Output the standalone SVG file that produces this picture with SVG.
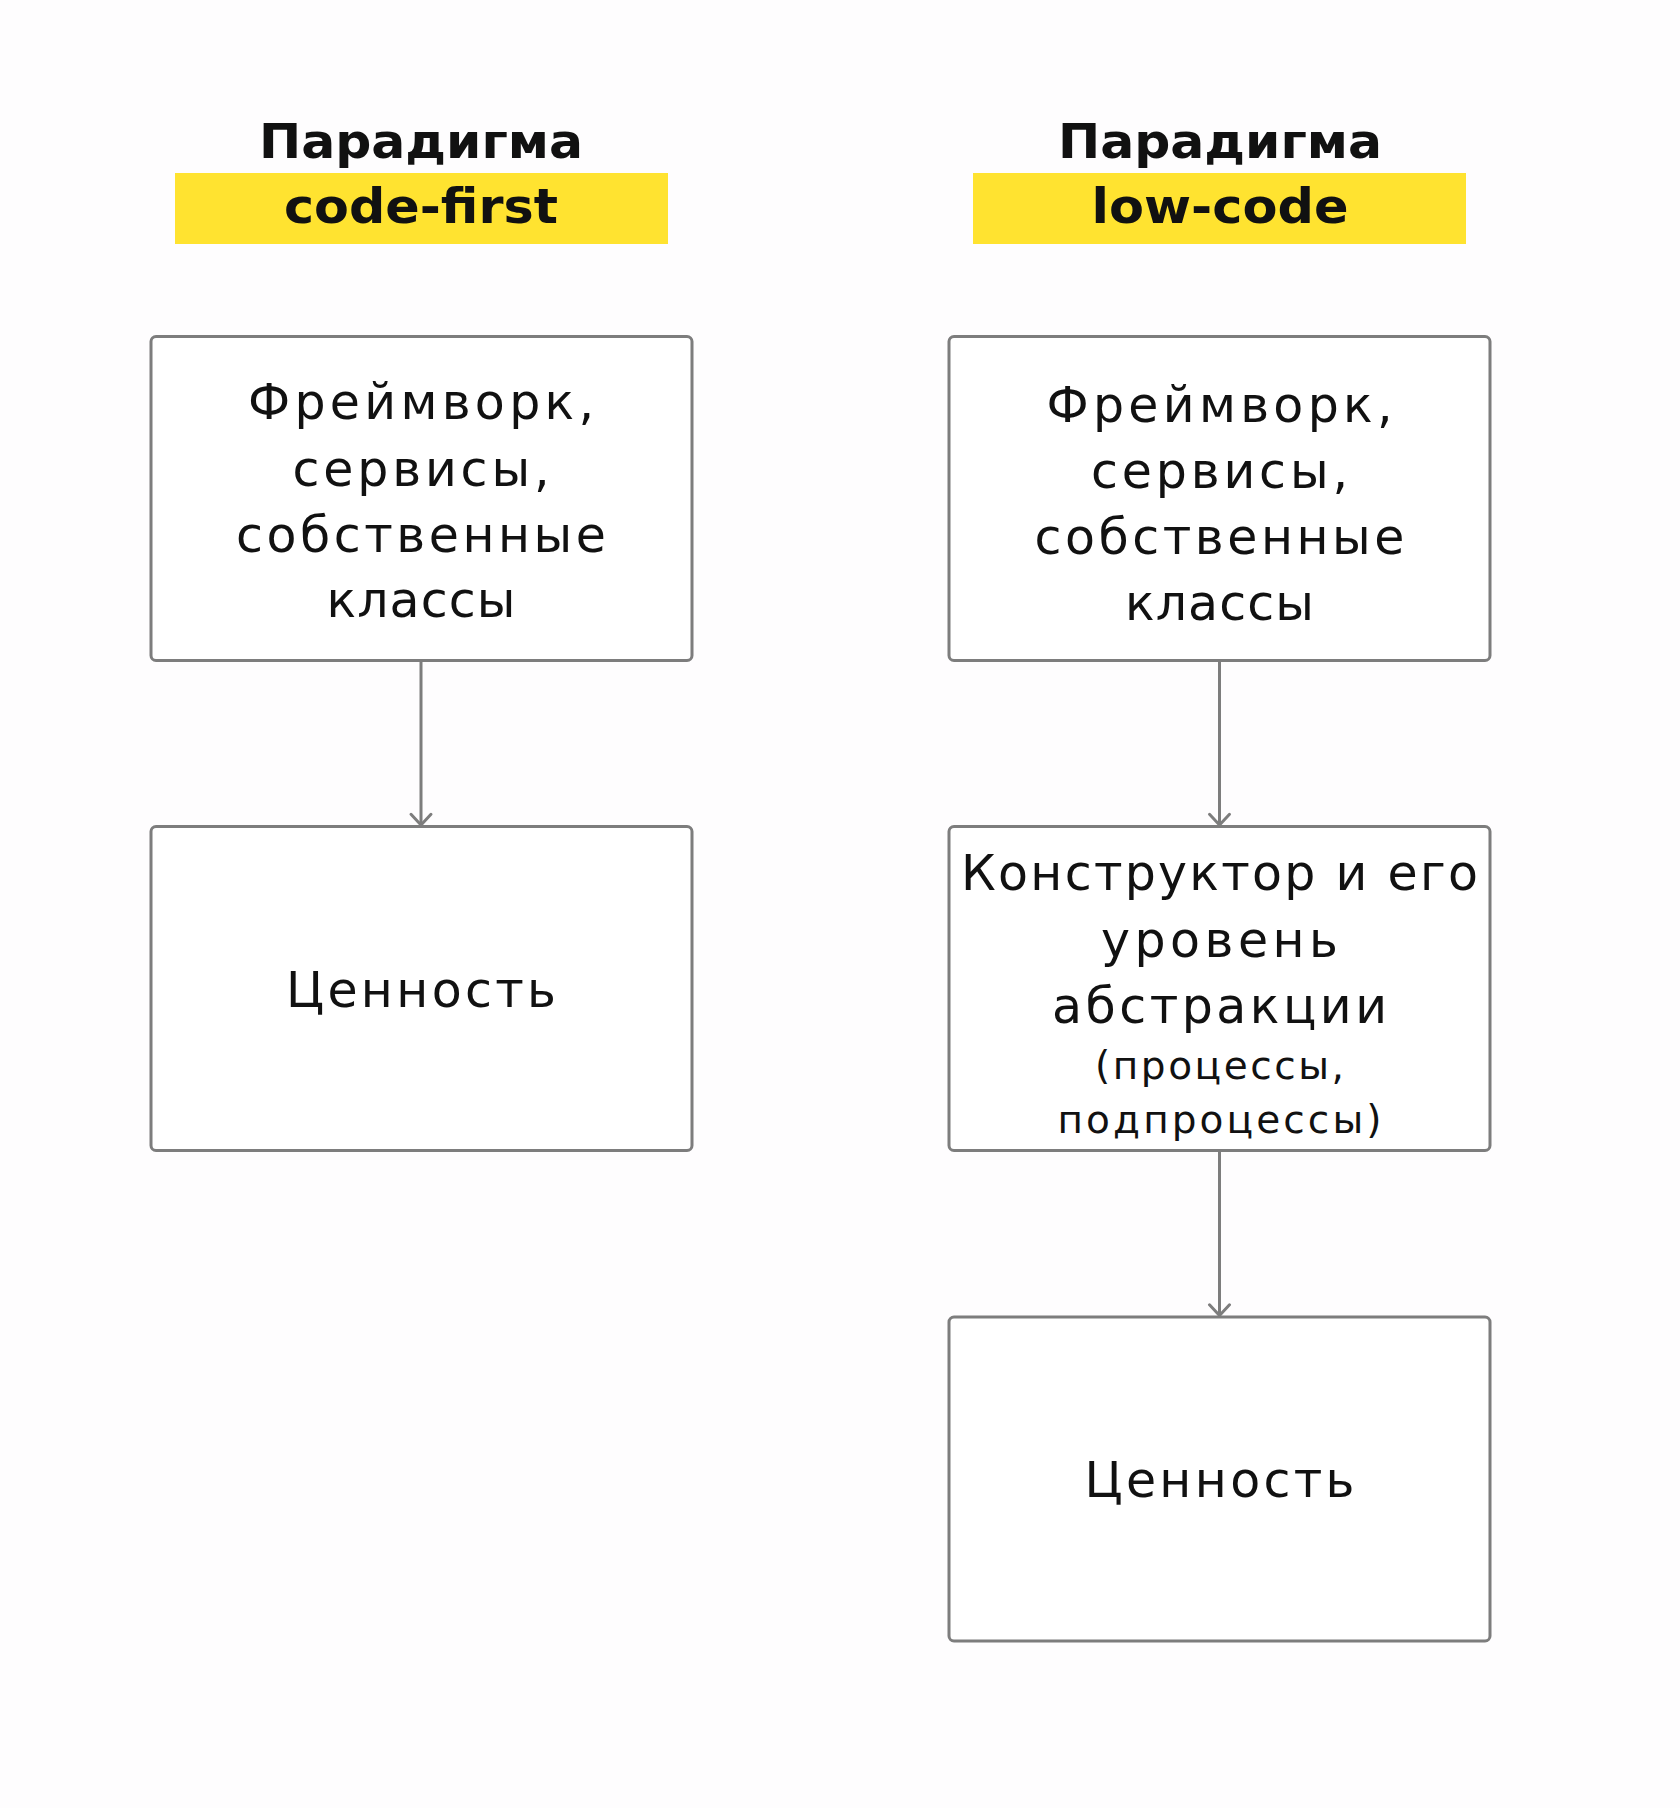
<svg xmlns="http://www.w3.org/2000/svg" width="1680" height="1808" viewBox="0 0 1680 1808">
  <defs>
    <style>
      .bg { fill: #fefdfe; }
      .hl { fill: #ffe330; }
      .box { fill: #ffffff; stroke: #7d7d7d; stroke-width: 3; }
      .conn { stroke: #7d7d7d; stroke-width: 3; fill: none; }
      .title { font-family: "DejaVu Sans", "Liberation Sans", sans-serif; font-weight: bold; font-size: 48px; fill: #111111; text-anchor: middle; }
      .big { font-family: "DejaVu Sans", "Liberation Sans", sans-serif; font-size: 49px; fill: #111111; text-anchor: middle; }
      .small { font-family: "DejaVu Sans", "Liberation Sans", sans-serif; font-size: 39px; fill: #111111; text-anchor: middle; }
    </style>
    <marker id="arrow" viewBox="-13 -13 16 26" refX="0" refY="0" markerWidth="16" markerHeight="26" markerUnits="userSpaceOnUse" orient="auto">
      <path d="M-10.7,-10 L0,0 L-10.7,10" fill="none" stroke="#7d7d7d" stroke-width="3" stroke-linecap="round" stroke-linejoin="round"/>
    </marker>
  </defs>

  <rect class="bg" x="0" y="0" width="1680" height="1808"/>

  <g id="header-code-first">
    <text class="title" x="421" y="158" textLength="324" lengthAdjust="spacingAndGlyphs">Парадигма</text>
    <rect class="hl" x="175" y="173" width="493" height="71"/>
    <text class="title" x="421" y="223" textLength="274" lengthAdjust="spacingAndGlyphs">code-first</text>
  </g>

  <g id="header-low-code">
    <text class="title" x="1220" y="158" textLength="324" lengthAdjust="spacingAndGlyphs">Парадигма</text>
    <rect class="hl" x="973" y="173" width="493" height="71"/>
    <text class="title" x="1220" y="223" textLength="257" lengthAdjust="spacingAndGlyphs">low-code</text>
  </g>

  <g id="connectors">
    <line class="conn" x1="421" y1="660" x2="421" y2="825" marker-end="url(#arrow)"/>
    <line class="conn" x1="1219.5" y1="660" x2="1219.5" y2="825" marker-end="url(#arrow)"/>
    <line class="conn" x1="1219.5" y1="1151" x2="1219.5" y2="1315.5" marker-end="url(#arrow)"/>
  </g>

  <g id="left-framework">
    <rect class="box" x="151" y="336.5" width="541" height="324" rx="5"/>
    <text class="big" x="421" y="419" textLength="346">Фреймворк,</text>
    <text class="big" x="421" y="486" textLength="257">сервисы,</text>
    <text class="big" x="421" y="552" textLength="370">собственные</text>
    <text class="big" x="421" y="617" textLength="189">классы</text>
  </g>

  <g id="left-value">
    <rect class="box" x="151" y="826.5" width="541" height="324" rx="5"/>
    <text class="big" x="421" y="1007" textLength="270">Ценность</text>
  </g>

  <g id="right-framework">
    <rect class="box" x="949" y="336.5" width="541" height="324" rx="5"/>
    <text class="big" x="1219.5" y="421.5" textLength="346">Фреймворк,</text>
    <text class="big" x="1219.5" y="488" textLength="257">сервисы,</text>
    <text class="big" x="1219.5" y="554" textLength="370">собственные</text>
    <text class="big" x="1219.5" y="620" textLength="189">классы</text>
  </g>

  <g id="right-constructor">
    <rect class="box" x="949" y="826.5" width="541" height="324" rx="5"/>
    <text class="big" x="1219.5" y="890" textLength="517">Конструктор и его</text>
    <text class="big" x="1219.5" y="957" textLength="237">уровень</text>
    <text class="big" x="1219.5" y="1023" textLength="335">абстракции</text>
    <text class="small" x="1219.5" y="1079" textLength="249">(процессы,</text>
    <text class="small" x="1219.5" y="1133" textLength="324">подпроцессы)</text>
  </g>

  <g id="right-value">
    <rect class="box" x="949" y="1317" width="541" height="324" rx="5"/>
    <text class="big" x="1219.5" y="1497" textLength="270">Ценность</text>
  </g>
</svg>
